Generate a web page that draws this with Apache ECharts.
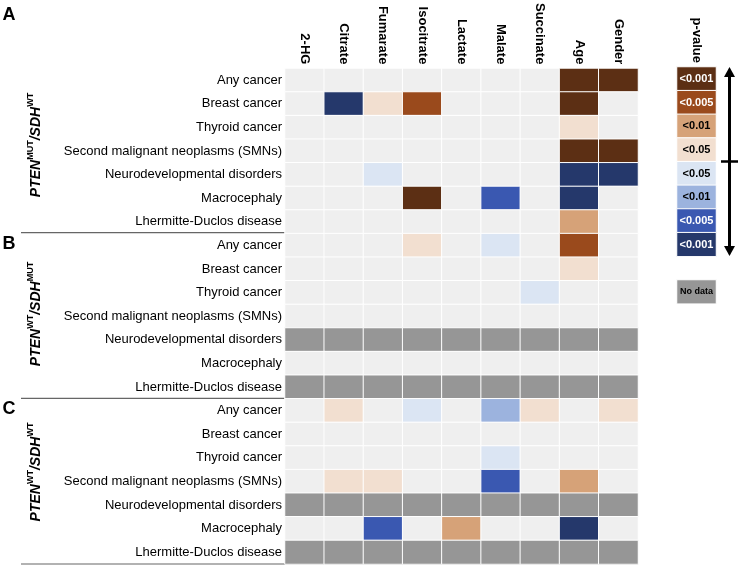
<!DOCTYPE html>
<html><head><meta charset="utf-8">
<script src="https://cdn.jsdelivr.net/npm/echarts@6/dist/echarts.min.js"></script>
<style>html,body{margin:0;padding:0;background:#fff}#c{width:740px;height:567px}</style>
</head><body><div id="c"></div>
<script>
// ---- data ----
const columns = ['2-HG','Citrate','Fumarate','Isocitrate','Lactate','Malate','Succinate','Age','Gender'];
const outcomes = ['Any cancer','Breast cancer','Thyroid cancer','Second malignant neoplasms (SMNs)','Neurodevelopmental disorders','Macrocephaly','Lhermitte-Duclos disease'];
// codes: 0 = not significant; 1..4 = brown (<0.05,<0.01,<0.005,<0.001); -1..-4 = blue (<0.05,<0.01,<0.005,<0.001); 'NA' = no data
const groupA = [
  [0,0,0,0,0,0,0,4,4],
  [0,-4,1,3,0,0,0,4,0],
  [0,0,0,0,0,0,0,1,0],
  [0,0,0,0,0,0,0,4,4],
  [0,0,-1,0,0,0,0,-4,-4],
  [0,0,0,4,0,-3,0,-4,0],
  [0,0,0,0,0,0,0,2,0]
];
const groupB = [
  [0,0,0,1,0,-1,0,3,0],
  [0,0,0,0,0,0,0,1,0],
  [0,0,0,0,0,0,-1,0,0],
  [0,0,0,0,0,0,0,0,0],
  ['NA','NA','NA','NA','NA','NA','NA','NA','NA'],
  [0,0,0,0,0,0,0,0,0],
  ['NA','NA','NA','NA','NA','NA','NA','NA','NA']
];
const groupC = [
  [0,1,0,-1,0,-2,1,0,1],
  [0,0,0,0,0,0,0,0,0],
  [0,0,0,0,0,-1,0,0,0],
  [0,1,1,0,0,-3,0,2,0],
  ['NA','NA','NA','NA','NA','NA','NA','NA','NA'],
  [0,0,-3,0,2,0,0,-4,0],
  ['NA','NA','NA','NA','NA','NA','NA','NA','NA']
];
const groupLetters = ['A','B','C'];
const groupTitles = [['PTEN','MUT','SDH','WT'],['PTEN','WT','SDH','MUT'],['PTEN','WT','SDH','WT']];
const legendCodes = [4,3,2,1,-1,-2,-3,-4];
const legendLabels = ['<0.001','<0.005','<0.01','<0.05','<0.05','<0.01','<0.005','<0.001'];
const noDataLabel = 'No data';

// ---- styles ----
const codeColors = {'4':'#5c2f14','3':'#9a4a1c','2':'#d6a278','1':'#f2dfd0','0':'#efefef',
  '-1':'#dbe5f3','-2':'#9cb3de','-3':'#3a58b1','-4':'#25386b','9':'#969696'};
const FONT = '"Liberation Sans", Arial, Helvetica, sans-serif';

const groups = [groupA, groupB, groupC];
const nRows = outcomes.length * groups.length;
const rowIdx = Array.from({length: nRows}, (_, i) => String(i));
const toCode = v => (v === 'NA' ? 9 : v);

const heatData = [];
groups.forEach((g, gi) => g.forEach((row, ri) => row.forEach((v, ci) => {
  heatData.push([ci, gi * outcomes.length + ri, toCode(v)]);
})));

const legendData = legendCodes.map((c, i) => ({
  value: [0, i, c], name: legendLabels[i],
  label: {color: Math.abs(c) >= 3 ? '#fff' : '#000'}
}));
legendData.push({value: [0, legendCodes.length + 1, 9], name: noDataLabel,
  label: {color: '#000', fontSize: 9}});

const GT = 67, GH = 497, GL = 285, GW = 353;
const rowH = GH / nRows;

const graphics = [];
groups.forEach((g, gi) => {
  const y = GT + (gi + 1) * outcomes.length * rowH;
  graphics.push({type: 'line', shape: {x1: 21, y1: y, x2: GL + GW, y2: y},
    style: {stroke: '#666', lineWidth: 1.2}, silent: true});
});
const letterY = [15, 244, 409];
groupLetters.forEach((L, gi) => {
  graphics.push({type: 'text', x: 9, y: letterY[gi],
    style: {text: L, font: 'bold 18px ' + FONT, fill: '#000', align: 'center', verticalAlign: 'middle'}});
});
const titleY = [145, 314, 472];
groupTitles.forEach((t, gi) => {
  graphics.push({type: 'text', x: 35, y: titleY[gi], rotation: Math.PI / 2,
    style: {
      text: '{m|' + t[0] + '}{s|' + t[1] + '}{m|/' + t[2] + '}{s|' + t[3] + '}',
      align: 'center', verticalAlign: 'middle', fill: '#000',
      rich: {
        m: {fontSize: 14, fontWeight: 'bold', fontStyle: 'italic', fontFamily: FONT, lineHeight: 17, verticalAlign: 'bottom', fill: '#000'},
        s: {fontSize: 9, fontWeight: 'bold', fontFamily: FONT, lineHeight: 10, verticalAlign: 'top', fill: '#000'}
      }
    }});
});
// double arrow with centre tick
const ax = 729.5;
graphics.push({type: 'line', shape: {x1: ax, y1: 72, x2: ax, y2: 251}, style: {stroke: '#000', lineWidth: 3}});
graphics.push({type: 'polygon', shape: {points: [[ax, 67], [724, 77], [735, 77]]}, style: {fill: '#000'}});
graphics.push({type: 'polygon', shape: {points: [[ax, 256], [724, 246], [735, 246]]}, style: {fill: '#000'}});
graphics.push({type: 'line', shape: {x1: 721, y1: 161.5, x2: 738, y2: 161.5}, style: {stroke: '#000', lineWidth: 2.5}});

const pieces = Object.keys(codeColors).map(k => ({value: Number(k), color: codeColors[k]}));

const chart = echarts.init(document.getElementById('c'), null, {renderer: 'canvas'});
chart.setOption({
  animation: false,
  backgroundColor: '#fff',
  grid: [
    {left: GL, top: GT, width: GW, height: GH},
    {left: 677, top: GT, width: 39, height: GH}
  ],
  xAxis: [
    {type: 'category', data: columns, position: 'top', gridIndex: 0,
      axisLine: {show: false}, axisTick: {show: false}, splitLine: {show: false},
      axisLabel: {rotate: 90, interval: 0, margin: 4, fontSize: 13, fontWeight: 'bold', color: '#000', fontFamily: FONT}},
    {type: 'category', data: ['p-value'], position: 'top', gridIndex: 1,
      axisLine: {show: false}, axisTick: {show: false},
      axisLabel: {rotate: 90, margin: 4, fontSize: 13, fontWeight: 'bold', color: '#000', fontFamily: FONT}}
  ],
  yAxis: [
    {type: 'category', data: rowIdx, inverse: true, gridIndex: 0,
      axisLine: {show: false}, axisTick: {show: false}, splitLine: {show: false},
      axisLabel: {interval: 0, margin: 3, fontSize: 13, color: '#000', fontFamily: FONT,
        formatter: v => outcomes[Number(v) % outcomes.length]}},
    {type: 'category', data: rowIdx, inverse: true, gridIndex: 1, show: false}
  ],
  visualMap: {type: 'piecewise', show: false, dimension: 2, seriesIndex: [0, 1], pieces: pieces},
  series: [
    {type: 'heatmap', xAxisIndex: 0, yAxisIndex: 0, data: heatData,
      itemStyle: {borderColor: '#fff', borderWidth: 1}, emphasis: {disabled: true}},
    {type: 'heatmap', xAxisIndex: 1, yAxisIndex: 1, data: legendData,
      itemStyle: {borderColor: '#fff', borderWidth: 1}, emphasis: {disabled: true},
      label: {show: true, formatter: p => p.name, fontSize: 11, fontWeight: 'bold', fontFamily: FONT}}
  ],
  graphic: graphics
});
</script></body></html>
